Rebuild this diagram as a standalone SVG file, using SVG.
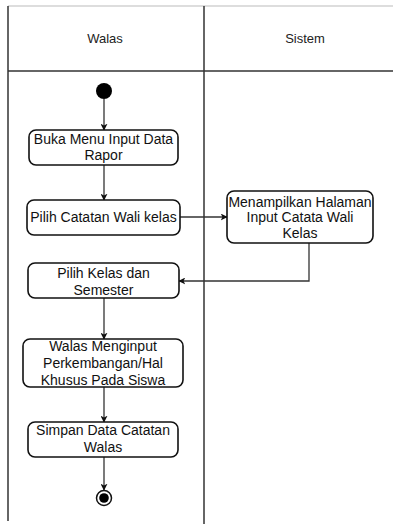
<svg xmlns="http://www.w3.org/2000/svg" width="393" height="524" viewBox="0 0 393 524">
  <style>
    .lane { stroke: #333; stroke-width: 1.5; fill: none; }
    .lane-top { stroke: #bbb; stroke-width: 1.2; fill: none; }
    .act { fill: #fff; stroke: #111; stroke-width: 1.6; }
    .edge { stroke: #333; stroke-width: 1.3; fill: none; }
    .hdr { font-family: "Liberation Sans", Arial, sans-serif; font-size: 13px; fill: #222; text-anchor: middle; }
    .lbl { font-family: "Liberation Sans", Arial, sans-serif; font-size: 14px; fill: #111; text-anchor: middle; }
  </style>
  <defs>
    <marker id="arrow" viewBox="0 0 10 10" refX="9" refY="5" markerWidth="7" markerHeight="7" markerUnits="userSpaceOnUse" orient="auto">
      <path d="M0,0 L10,5 L0,10 L2.5,5 z" fill="#111"/>
    </marker>
  </defs>
  <rect width="393" height="524" fill="#fff"/>

  <!-- swimlanes -->
  <g id="lanes">
    <line class="lane-top" x1="8" y1="6" x2="393" y2="6"/>
    <line class="lane" x1="8" y1="6" x2="8" y2="521"/>
    <line class="lane" x1="204" y1="6" x2="204" y2="524"/>
    <line class="lane" x1="8" y1="71" x2="393" y2="71"/>
    <text class="hdr" x="105" y="43">Walas</text>
    <text class="hdr" x="305" y="43">Sistem</text>
  </g>

  <!-- connectors -->
  <g id="connectors">
    <line class="edge" x1="104" y1="99" x2="104" y2="130" marker-end="url(#arrow)"/>
    <line class="edge" x1="104" y1="165" x2="104" y2="200" marker-end="url(#arrow)"/>
    <line class="edge" x1="180" y1="217" x2="227" y2="217" marker-end="url(#arrow)"/>
    <polyline class="edge" points="309,243 309,281 179,281" marker-end="url(#arrow)"/>
    <line class="edge" x1="104" y1="298" x2="104" y2="339" marker-end="url(#arrow)"/>
    <line class="edge" x1="104" y1="387" x2="104" y2="422" marker-end="url(#arrow)"/>
    <line class="edge" x1="104" y1="457" x2="104" y2="490" marker-end="url(#arrow)"/>
  </g>

  <g id="start">
    <circle cx="104" cy="91" r="8" fill="#000"/>
  </g>

  <g id="buka-menu">
    <rect class="act" x="29" y="130" width="149" height="35" rx="7"/>
    <text class="lbl" x="103.5" y="144">Buka Menu Input Data</text>
    <text class="lbl" x="103.5" y="160">Rapor</text>
  </g>

  <g id="pilih-catatan">
    <rect class="act" x="27" y="200" width="153" height="35" rx="7"/>
    <text class="lbl" x="103.5" y="222">Pilih Catatan Wali kelas</text>
  </g>

  <g id="tampil-halaman">
    <rect class="act" x="227" y="191" width="146" height="52" rx="7"/>
    <text class="lbl" x="300" y="207">Menampilkan Halaman</text>
    <text class="lbl" x="300" y="222">Input Catata Wali</text>
    <text class="lbl" x="300" y="238">Kelas</text>
  </g>

  <g id="pilih-kelas">
    <rect class="act" x="28" y="263" width="151" height="35" rx="7"/>
    <text class="lbl" x="103.5" y="278">Pilih Kelas dan</text>
    <text class="lbl" x="103.5" y="295">Semester</text>
  </g>

  <g id="input-perkembangan">
    <rect class="act" x="23" y="339" width="160" height="48" rx="7"/>
    <text class="lbl" x="103" y="351">Walas Menginput</text>
    <text class="lbl" x="103" y="368">Perkembangan/Hal</text>
    <text class="lbl" x="103" y="385">Khusus Pada Siswa</text>
  </g>

  <g id="simpan-data">
    <rect class="act" x="28" y="422" width="150" height="35" rx="7"/>
    <text class="lbl" x="103" y="435">Simpan Data Catatan</text>
    <text class="lbl" x="103" y="452">Walas</text>
  </g>

  <g id="end">
    <circle cx="104" cy="498" r="7.5" fill="#fff" stroke="#111" stroke-width="1.5"/>
    <circle cx="104" cy="498" r="4.8" fill="#000"/>
  </g>
</svg>
